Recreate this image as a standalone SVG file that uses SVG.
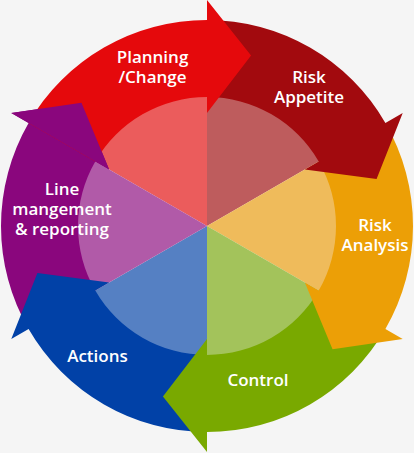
<svg xmlns="http://www.w3.org/2000/svg" xmlns:xlink="http://www.w3.org/1999/xlink" width="414" height="453" viewBox="0 0 414 453">
<style>
.lbl{font-family:"Open Sans","Liberation Sans",sans-serif;font-weight:600;font-size:17px;fill:#ffffff;text-anchor:middle}
</style>
<rect width="414" height="453" fill="#F5F5F5"/>
<g id="pie">
<path d="M207 226 L94.42 161 A130 130 0 0 1 207 96 Z" fill="#EB5C5C"/>
<path d="M207 226 L207 96 A130 130 0 0 1 319.58 161 Z" fill="#BE5C5D"/>
<path d="M207 226 L319.58 161 A130 130 0 0 1 319.58 291 Z" fill="#EFBB5B"/>
<path d="M207 226 L319.58 291 A130 130 0 0 1 207 356 Z" fill="#A3C35B"/>
<path d="M207 226 L207 356 A130 130 0 0 1 94.42 291 Z" fill="#5580C3"/>
<path d="M207 226 L94.42 291 A130 130 0 0 1 94.42 161 Z" fill="#B15AA8"/>
</g>
<g id="node-line-management">
<path id="arrow-line" d="M28.6 329 A206 206 0 0 1 28.6 123 L11.28 113 L81.46 102.64 L109.14 169.5 L95.28 161.5 A129 129 0 0 0 95.28 290.5 Z" fill="#8A067D"/>
<text class="lbl" x="62" y="195">Line</text>
<text class="lbl" x="62" y="215">mangement</text>
<text class="lbl" x="62" y="235">&amp; reporting</text>
</g>
<g id="node-actions">
<path d="M207 432 A206 206 0 0 1 28.6 329 L11.28 339 L37.41 273.03 L109.14 282.5 L95.28 290.5 A129 129 0 0 0 207 355 Z" fill="#0141A7"/>
<text class="lbl" x="97.5" y="362">Actions</text>
</g>
<g id="node-control">
<path d="M385.4 329 A206 206 0 0 1 207 432 L207 452 L162.93 396.39 L207 339 L207 355 A129 129 0 0 0 318.72 290.5 Z" fill="#79A900"/>
<text class="lbl" x="258" y="386">Control</text>
</g>
<g id="node-risk-analysis">
<path d="M385.4 123 A206 206 0 0 1 385.4 329 L402.72 339 L332.54 349.36 L304.86 282.5 L318.72 290.5 A129 129 0 0 0 318.72 161.5 Z" fill="#EC9F06"/>
<text class="lbl" x="375" y="231">Risk</text>
<text class="lbl" x="375" y="251">Analysis</text>
</g>
<g id="node-risk-appetite">
<path d="M207 20 A206 206 0 0 1 385.4 123 L402.72 113 L376.59 178.97 L304.86 169.5 L318.72 161.5 A129 129 0 0 0 207 97 Z" fill="#A20A0E"/>
<text class="lbl" x="309" y="83">Risk</text>
<text class="lbl" x="309" y="103">Appetite</text>
</g>
<g id="node-planning">
<path d="M28.6 123 A206 206 0 0 1 207 20 L207 0 L251.07 55.61 L207 113 L207 97 A129 129 0 0 0 95.28 161.5 Z" fill="#E5090C"/>
<text class="lbl" x="152.5" y="63">Planning</text>
<text class="lbl" x="152.5" y="83">/Change</text>
</g>
<g id="connectors">
<path d="M11.28 113 L81.46 102.64 L109.14 169.5 Z" fill="#8A067D"/>
</g>
</svg>
